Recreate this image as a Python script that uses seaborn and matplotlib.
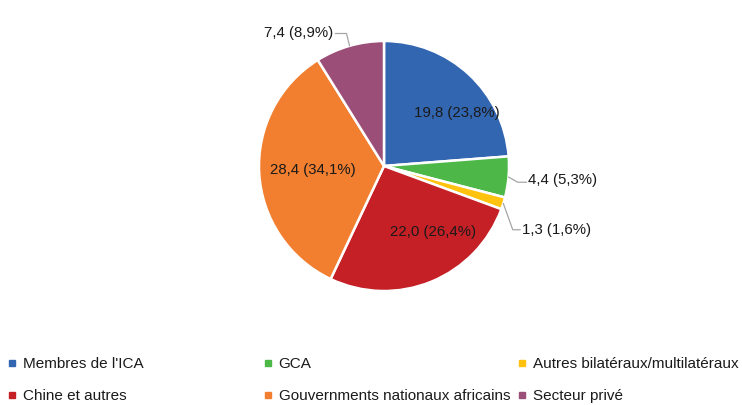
import numpy as np
import matplotlib
matplotlib.use("Agg")
import matplotlib.pyplot as plt
import seaborn as sns
from matplotlib.lines import Line2D

sns.set_theme(style="white")
plt.rcParams['font.family'] = ['Liberation Sans', 'DejaVu Sans']

categories = ["Membres de l'ICA", "GCA", "Autres bilatéraux/multilatéraux",
              "Chine et autres", "Gouvernments nationaux africains", "Secteur privé"]
values = [19.8, 4.4, 1.3, 22.0, 28.4, 7.4]
percents = ["23,8", "5,3", "1,6", "26,4", "34,1", "8,9"]
colors = ["#3366B1", "#4DB848", "#FFC20E", "#C52026", "#F27F30", "#9B4F78"]

W, H = 742, 405
fig = plt.figure(figsize=(W / 100, H / 100), dpi=100)
cx, cy, R = 384, 166, 125
half = 150
ax = fig.add_axes([(cx - half) / W, (H - cy - half) / H, 2 * half / W, 2 * half / H])
lim = half / R
wedges, _ = ax.pie(values, colors=colors, startangle=90, counterclock=False,
                   wedgeprops=dict(edgecolor="white", linewidth=1.8))
ax.set_xlim(-lim, lim)
ax.set_ylim(-lim, lim)
ax.set_aspect("equal")
ax.axis("off")

def fmt(v, p):
    return f"{v:.1f}".replace(".", ",") + f" ({p}%)"

fs = 10.8
tc = "#1a1a1a"
# inside labels: (dx, dy) in axes data units
inside = {0: (0.58, 0.42), 3: (0.39, -0.53), 4: (-0.57, -0.03)}
for i, (dx, dy) in inside.items():
    ax.text(dx, dy, fmt(values[i], percents[i]), ha="center", va="center",
            fontsize=fs, color=tc)

# outside labels with leader lines
outside = {
    1: dict(elbow=(1.07, -0.13), end=(1.14, -0.13), ty=-0.11, ha="left"),
    2: dict(elbow=(1.03, -0.51), end=(1.09, -0.51), ty=-0.51, ha="left"),
    5: dict(elbow=(-0.30, 1.06), end=(-0.39, 1.06), ty=1.06, ha="right"),
}
for i, o in outside.items():
    w = wedges[i]
    ang = np.deg2rad((w.theta1 + w.theta2) / 2)
    p0 = (np.cos(ang), np.sin(ang))
    xs = [p0[0], o["elbow"][0], o["end"][0]]
    ys = [p0[1], o["elbow"][1], o["end"][1]]
    ax.plot(xs, ys, color="#A6A6A6", linewidth=0.9, clip_on=False)
    off = 0.015 if o["ha"] == "left" else -0.015
    ax.text(o["end"][0] + off, o["ty"], fmt(values[i], percents[i]),
            ha=o["ha"], va="center", fontsize=fs, color=tc)

# legend: three columns
col_x = [8 / W, 264 / W, 518 / W]
for c in range(3):
    idx = [c, c + 3]
    handles = [Line2D([0], [0], marker="s", linestyle="", markersize=4.5,
                      markerfacecolor=colors[k], markeredgecolor=colors[k]) for k in idx]
    leg = fig.legend(handles, [categories[k] for k in idx], loc="upper left",
                     bbox_to_anchor=(col_x[c], 1 - 357 / H), frameon=False,
                     fontsize=11, handlelength=0.5, handletextpad=0.45,
                     labelspacing=1.2, borderaxespad=0, borderpad=0)
    for t in leg.get_texts():
        t.set_color(tc)

fig.savefig("out.png", dpi=100)
